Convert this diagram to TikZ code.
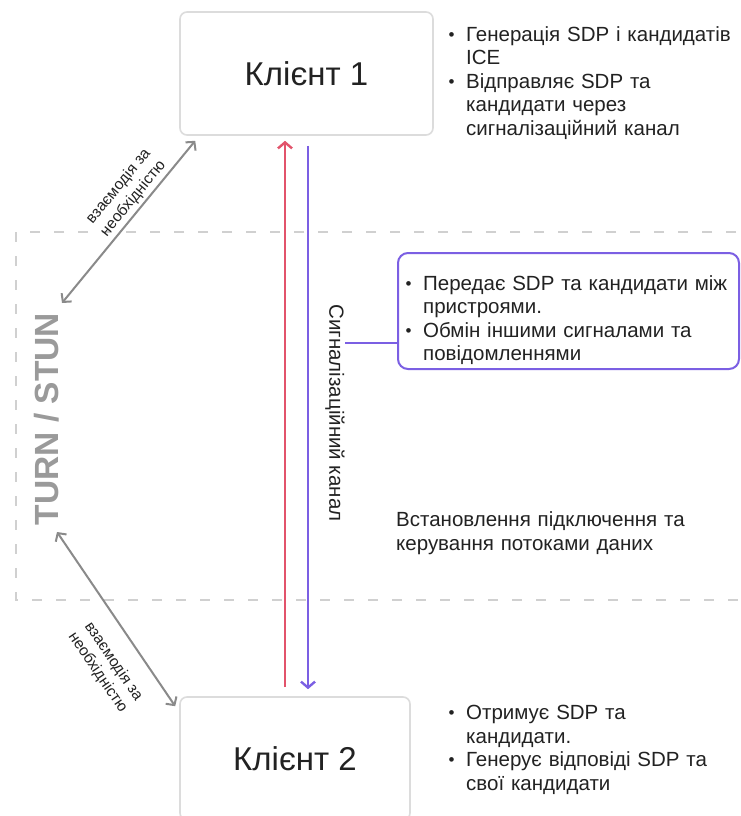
\documentclass[tikz,border=0pt]{standalone}
\usepackage{fontspec}
\setmainfont{Liberation Sans}
\usetikzlibrary{arrows.meta}

\definecolor{boxgray}{HTML}{DCDCDC}
\definecolor{dashgray}{HTML}{D0D0D0}
\definecolor{linkgray}{HTML}{8A8A8A}
\definecolor{labelgray}{HTML}{9A9A9A}
\definecolor{sigred}{HTML}{E2536B}
\definecolor{sigpurple}{HTML}{7B5FE3}
\definecolor{ink}{HTML}{222222}

% bullet item with hanging indent
\newcommand\bulletitem[1]{\hangindent=18.5pt\hangafter=1\noindent
  \makebox[18.5pt][l]{\hspace{1pt}\raisebox{0.8pt}{\fontsize{17}{17}\selectfont •}}#1\par}

\tikzset{
  client/.style={draw=boxgray, line width=1.6pt, rounded corners=7pt, fill=white,
    minimum width=253pt, minimum height=123pt, inner sep=0pt,
    font=\fontsize{33}{39}\selectfont, text=ink},
  notes/.style={anchor=north west, inner sep=0pt, align=left, text=ink,
    font=\fontsize{20.5}{23.6}\selectfont},
  link/.style={draw=linkgray, line width=2pt,
    {Straight Barb[length=6pt,width=13pt]}-{Straight Barb[length=6pt,width=13pt]}},
  linklabel/.style={font=\fontsize{15.5}{19}\selectfont, text=ink, align=center, inner sep=1pt},
  flow/.style={line width=2.4pt, -{Straight Barb[length=6pt,width=14pt]}},
}

\begin{document}
\begin{tikzpicture}[x=1pt, y=-1pt]
\useasboundingbox[fill=white] (0,0) rectangle (741,816);

% TURN / STUN region
\draw[dashgray, line width=1.5pt, dash pattern=on 10pt off 14pt]
  (760,232) -- (16,232) -- (16,600) -- (760,600);
\node[rotate=90, text=labelgray, font=\fontsize{33.5}{38}\selectfont\bfseries] (ts) at (47,419) {TURN / STUN};

% clients
\node[client] (c1) at (306.5,73.5) {Клієнт 1};
\node[client, minimum width=230pt] (c2) at (295,758.5) {Клієнт 2};

% client notes
\node[notes, text width=290pt] (n1) at (447.5,26) {%
  \bulletitem{Генерація SDP і кандидатів\newline ICE}
  \bulletitem{Відправляє SDP та\newline кандидати через\newline сигналізаційний канал}};
\node[notes, text width=290pt] (n2) at (447.5,705) {%
  \bulletitem{Отримує SDP та\newline кандидати.}
  \bulletitem{Генерує відповіді SDP та\newline свої кандидати}};

% signalling channel: two opposite flows between the clients
\coordinate (redx) at (285,0);
\coordinate (purx) at (308,0);
\draw[flow, sigred] ([yshift=9pt]c2.north -| redx) -- ([yshift=-5pt]c1.south -| redx);
\draw[flow, sigpurple] ([yshift=-10pt]c1.south -| purx) -- ([yshift=7pt]c2.north -| purx);
\node[rotate=-90, font=\fontsize{20.5}{24}\selectfont, text=ink] (sig) at (335,413) {Сигналізаційний канал};

\node[draw=sigpurple, line width=2pt, rounded corners=10pt, minimum width=341pt,
      minimum height=116pt, anchor=north west, inner sep=0pt] (pbox) at (397,252) {};
\node[notes, text width=330pt] (pn) at (404.5,275) {%
  \bulletitem{Передає SDP та кандидати між\newline пристроями.}
  \bulletitem{Обмін іншими сигналами та\newline повідомленнями}};
\coordinate (tap) at (345,343);
\draw[sigpurple, line width=2pt] (tap) -- (tap -| pbox.west);

\node[notes, text width=330pt, font=\fontsize{20.5}{24.5}\selectfont] (est) at (396,511)
  {Встановлення підключення та\\керування потоками даних};

% links to TURN / STUN
\coordinate (ts1) at (62,303);
\coordinate (ts2) at (57,532);
\draw[link] (ts1) -- ([shift={(16,5)}]c1.south west)
  node[linklabel, pos=0.6, sloped, above=2pt] {взаємодія за\\необхідністю};
\draw[link] (ts2) -- ([shift={(-4,10)}]c2.north west)
  node[linklabel, pos=0.66, sloped, below=17pt] {взаємодія за\\необхідністю};
\end{tikzpicture}
\end{document}
